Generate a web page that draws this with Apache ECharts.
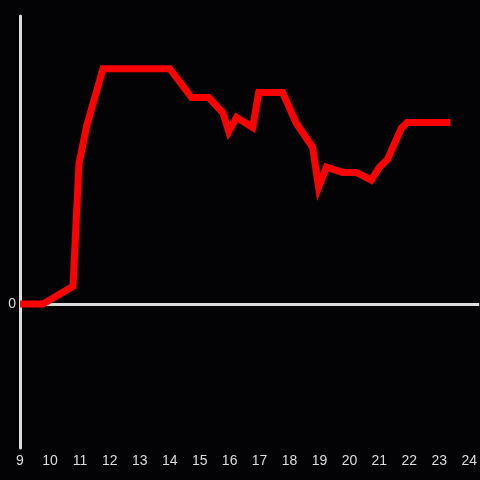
<!DOCTYPE html>
<html>
<head>
<meta charset="utf-8">
<script src="https://cdn.jsdelivr.net/npm/echarts@6/dist/echarts.min.js"></script>
<style>
  html, body { margin: 0; padding: 0; background: #030305; }
  #chart { width: 480px; height: 480px; }
</style>
</head>
<body>
<div id="chart"></div>
<script>
// hour of day and value
var hours = [9.0, 9.77, 10.77, 10.97, 11.23, 11.77, 14.0, 14.73, 15.3, 15.77, 15.97, 16.23, 16.77, 16.97,
             17.77, 18.23, 18.77, 18.97, 19.23, 19.77, 20.23, 20.73, 21.0, 21.27, 21.73, 21.93, 23.37];
var values = [0, 0, 6.2, 48.8, 62, 81.7, 81.7, 71.7, 71.7, 66.5, 59.9, 64.8, 61.3, 73.4,
              73.4, 62.7, 54.4, 40.5, 47.5, 45.7, 45.7, 43.0, 47.5, 50.2, 61.0, 63.0, 63.0];
var yTicks = [-50, 0, 50, 100];

var chart = echarts.init(document.getElementById('chart'));

var points = hours.map(function (h, i) { return [h, values[i]]; });

var option = {
    backgroundColor: '#030305',
    animation: false,
    grid: { left: 20, right: 0, top: 16, bottom: 32 },
    xAxis: {
        type: 'value',
        min: 9,
        max: 24.333,
        interval: 1,
        axisLine: { show: false },
        axisTick: { show: false },
        splitLine: { show: false },
        axisLabel: { color: '#dddddd', fontSize: 14, margin: 6, showMaxLabel: false }
    },
    yAxis: {
        type: 'value',
        min: yTicks[0],
        max: yTicks[yTicks.length - 1],
        interval: 50,
        axisLine: { show: true, onZero: false, lineStyle: { color: '#dddddd', width: 3 } },
        axisTick: { show: false },
        axisLabel: {
            color: '#dddddd', fontSize: 14, margin: 4,
            formatter: function (v) { return v === 0 ? '0' : ''; }
        },
        splitLine: {
            show: true,
            lineStyle: {
                width: 3,
                color: yTicks.map(function (t) { return t === 0 ? '#dddddd' : 'rgba(0,0,0,0)'; })
            }
        }
    },
    series: [{
        type: 'line',
        data: points,
        symbol: 'none',
        lineStyle: { color: '#ff0000', width: 7, join: 'miter', cap: 'butt' }
    }]
};

chart.setOption(option);
</script>
</body>
</html>
